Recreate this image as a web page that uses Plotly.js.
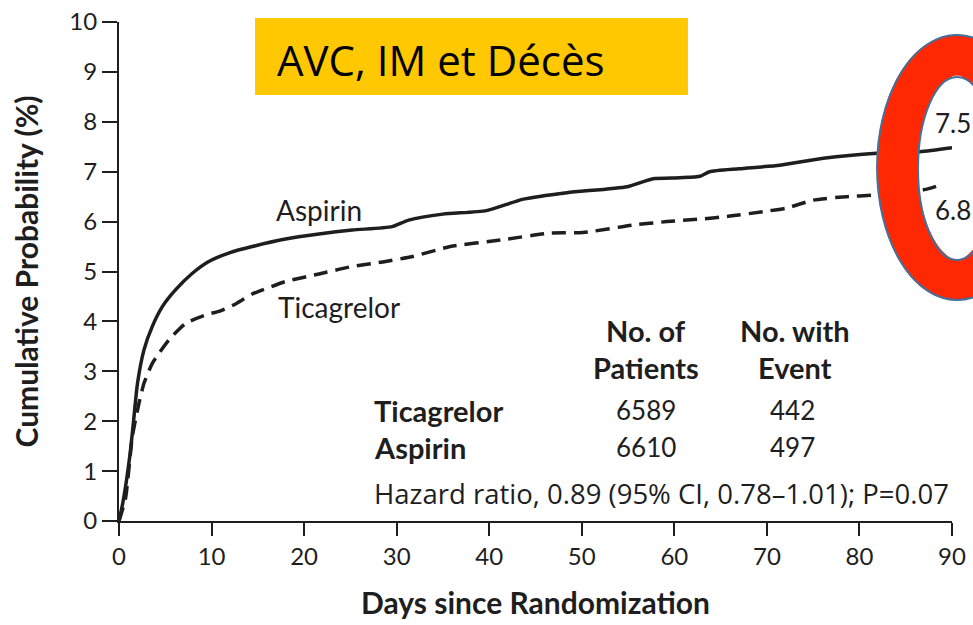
<!DOCTYPE html>
<html>
<head>
<meta charset="utf-8">
<script src="https://cdn.plot.ly/plotly-3.0.1.min.js"></script>
<style>html,body{margin:0;padding:0;background:#fff;}#chart{width:973px;height:625px;}</style>
</head>
<body>
<div id="chart"></div>
<script>
// ---- data ----
const aspirinDays = [0, 0.4, 0.8, 1.2, 1.55, 2.0, 2.7, 3.6, 4.7, 6.1, 7.9, 9.7, 12.0, 14.4, 18.0, 21.6, 25.2, 29.5, 31.3, 35.0, 39.7, 43.7, 48.4, 54.9, 57.7, 60.6, 62.8, 63.8, 67.0, 71.4, 76.1, 81.9, 86.5, 90.0];
const aspirinPct  = [0, 0.35, 0.8, 1.35, 1.96, 2.76, 3.43, 3.9, 4.3, 4.63, 4.96, 5.2, 5.38, 5.5, 5.65, 5.75, 5.83, 5.9, 6.03, 6.15, 6.22, 6.45, 6.58, 6.7, 6.86, 6.88, 6.91, 7.0, 7.06, 7.13, 7.27, 7.37, 7.4, 7.48];
const ticaDays = [0, 0.7, 1.44, 2.16, 2.7, 3.6, 5.4, 7.2, 9.7, 10.8, 12.6, 14.4, 15.1, 18.0, 21.6, 25.2, 28.8, 31.7, 35.8, 41.2, 46.6, 50.1, 55.5, 59.2, 62.8, 66.0, 69.6, 72.1, 75.0, 78.6, 81.5, 84.0, 87.3, 89.0];
const ticaPct  = [0, 0.45, 1.69, 2.36, 2.76, 3.16, 3.63, 3.96, 4.15, 4.2, 4.35, 4.55, 4.6, 4.8, 4.95, 5.1, 5.2, 5.3, 5.5, 5.63, 5.77, 5.78, 5.93, 6.0, 6.05, 6.11, 6.2, 6.27, 6.43, 6.5, 6.53, 6.57, 6.65, 6.75];
const xTicks = [0, 10, 20, 30, 40, 50, 60, 70, 80, 90];
const yTicks = [0, 1, 2, 3, 4, 5, 6, 7, 8, 9, 10];
const groups = ["Ticagrelor", "Aspirin"];
const nPatients = ["6589", "6610"];
const nEvents = ["442", "497"];
const endValues = ["7.5", "6.8"];
const chartTitle = "AVC, IM et Décès";
const hazardText = "Hazard ratio, 0.89 (95% CI, 0.78–1.01); P=0.07";

const FONT = "Lato, 'Noto Sans', sans-serif";
const INK = "#1e1e1e";

const traces = [
  {x: aspirinDays, y: aspirinPct, type: "scatter", mode: "lines", name: "Aspirin",
   line: {color: INK, width: 3.5, shape: "spline", smoothing: 0.6}, hoverinfo: "skip"},
  {x: ticaDays, y: ticaPct, type: "scatter", mode: "lines", name: "Ticagrelor",
   line: {color: INK, width: 3.5, dash: "14px,8px", shape: "spline", smoothing: 0.6}, hoverinfo: "skip"}
];

const txt = (x, y, text, size, opts) => Object.assign({
  x: x, y: y, xref: "x", yref: "y", text: text, showarrow: false,
  font: {family: FONT, size: size, color: INK}, xanchor: "left", yanchor: "middle"
}, opts || {});

const annotations = [
  txt(16.75, 6.23, "Aspirin", 28),
  txt(16.95, 4.29, "Ticagrelor", 28),
  txt(56.9, 3.81, "<b>No. of</b>", 29, {xanchor: "center"}),
  txt(56.9, 3.07, "<b>Patients</b>", 29, {xanchor: "center"}),
  txt(73.0, 3.81, "<b>No. with</b>", 29, {xanchor: "center"}),
  txt(73.0, 3.07, "<b>Event</b>", 29, {xanchor: "center"}),
  txt(27.3, 2.22, "<b>" + groups[0] + "</b>", 29),
  txt(27.3, 1.48, "<b>" + groups[1] + "</b>", 29),
  txt(56.9, 2.22, nPatients[0], 26, {xanchor: "center"}),
  txt(56.9, 1.48, nPatients[1], 26, {xanchor: "center"}),
  txt(72.8, 2.22, nEvents[0], 26, {xanchor: "center"}),
  txt(72.8, 1.48, nEvents[1], 26, {xanchor: "center"}),
  txt(27.3, 0.56, hazardText, 27.5, {font: {family: "'Open Sans', sans-serif", size: 27.5, color: INK}}),
  txt(87.9, 7.98, endValues[0], 26),
  txt(87.9, 6.23, endValues[1], 26),
  {xref: "paper", yref: "paper", x: 0.187, y: 0.924, text: chartTitle, showarrow: false,
   xanchor: "left", yanchor: "middle", font: {family: "'Open Sans', Lato, sans-serif", size: 42, color: "#000"}}
];

const shapes = [
  {type: "rect", xref: "paper", yref: "paper", x0: 0.1633, x1: 0.683, y0: 0.8537, y1: 1.008,
   fillcolor: "#FFC800", line: {width: 0}, layer: "above"},
  {type: "circle", xref: "paper", yref: "paper", x0: 0.9346, x1: 1.0774, y0: 0.483, y1: 0.9339,
   fillcolor: "rgba(0,0,0,0)", line: {color: "#FF2800", width: 41}, layer: "above"},
  {type: "circle", xref: "paper", yref: "paper", x0: 0.910, x1: 1.102, y0: 0.4429, y1: 0.974,
   fillcolor: "rgba(0,0,0,0)", line: {color: "#41719C", width: 2}, layer: "above"},
  {type: "circle", xref: "paper", yref: "paper", x0: 0.9592, x1: 1.0528, y0: 0.523, y1: 0.8898,
   fillcolor: "rgba(0,0,0,0)", line: {color: "#41719C", width: 2}, layer: "above"}
];

const layout = {
  width: 973, height: 625,
  margin: {l: 119, r: 21, t: 22, b: 104, pad: 0},
  paper_bgcolor: "#fff", plot_bgcolor: "#fff",
  showlegend: false,
  font: {family: FONT, size: 24, color: INK},
  xaxis: {
    range: [0, 90], tickvals: xTicks, ticktext: xTicks.map(String),
    ticks: "outside", ticklen: 13, tickwidth: 2, tickcolor: INK,
    showline: true, linewidth: 2, linecolor: INK, showgrid: false, zeroline: false,
    tickfont: {family: FONT, size: 24, color: INK},
    title: {text: "<b>Days since Randomization</b>", font: {family: FONT, size: 30, color: INK}, standoff: 24}
  },
  yaxis: {
    range: [0, 10], tickvals: yTicks, ticktext: yTicks.map(String),
    ticks: "outside", ticklen: 15, tickwidth: 2, tickcolor: INK,
    showline: true, linewidth: 2, linecolor: INK, showgrid: false, zeroline: false,
    tickfont: {family: FONT, size: 24, color: INK},
    title: {text: "<b>Cumulative Probability (%)</b>", font: {family: FONT, size: 30, color: INK}, standoff: 22}
  },
  annotations: annotations,
  shapes: shapes
};

Plotly.newPlot("chart", traces, layout, {displayModeBar: false, staticPlot: true});
</script>
</body>
</html>
